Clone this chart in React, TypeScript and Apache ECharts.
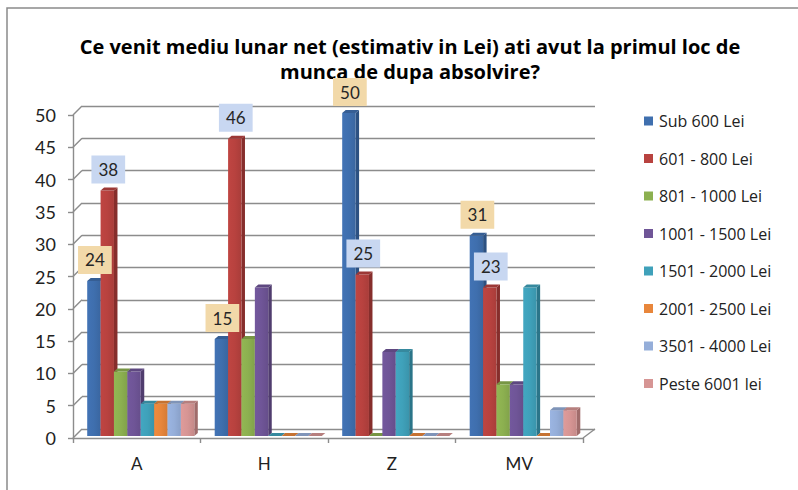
import React, { useEffect, useRef } from "react";
import * as echarts from "echarts";

const categories = ["A", "H", "Z", "MV"];
const seriesNames = [
  "Sub 600 Lei",
  "601 - 800 Lei",
  "801 - 1000 Lei",
  "1001 - 1500 Lei",
  "1501 - 2000 Lei",
  "2001 - 2500 Lei",
  "3501 - 4000 Lei",
  "Peste 6001 lei",
];
const sub600 = [24, 15, 50, 31];
const r601_800 = [38, 46, 25, 23];
const r801_1000 = [10, 15, 0, 8];
const r1001_1500 = [10, 23, 13, 8];
const r1501_2000 = [5, 0, 13, 23];
const r2001_2500 = [5, 0, 0, 0];
const r3501_4000 = [5, 0, 0, 4];
const peste6001 = [5, 0, 0, 4];
const seriesValues = [sub600, r601_800, r801_1000, r1001_1500, r1501_2000, r2001_2500, r3501_4000, peste6001];
const yTicks = [0, 5, 10, 15, 20, 25, 30, 35, 40, 45, 50];
const labeledSeries = [0, 1];

const colors = ["#3f6fae", "#b8423f", "#8cb050", "#6f5597", "#3fa1ba", "#e8863b", "#95aed9", "#d69594"];
const sideColors = ["#2c5182", "#862e2c", "#64803a", "#503d6e", "#2b7589", "#a95f28", "#6c80a3", "#a06c6b"];
const labelBg = ["#f2d9a9", "#c8d7f1"];

function shade(c: string, f: number) {
  const n = parseInt(c.slice(1), 16);
  let r = (n >> 16) & 255, g = (n >> 8) & 255, b = n & 255;
  r = Math.min(255, Math.round(r * f));
  g = Math.min(255, Math.round(g * f));
  b = Math.min(255, Math.round(b * f));
  return `rgb(${r},${g},${b})`;
}

const FONT = "Lato, 'Open Sans', sans-serif";
const FONT2 = "'Open Sans', Lato, sans-serif";

export default function App() {
  const ref = useRef<HTMLDivElement>(null);
  useEffect(() => {
    if (!ref.current) return;
    const chart = echarts.init(ref.current, undefined, { renderer: "svg" });
    const BW_RATIO = 0.105;
    const SHIFT = 4;
    const DX = 3.5;
    const DY = 3;
    const LIFT = 2;

    const barSeries = seriesNames.map((name, si) => ({
      name,
      type: "custom",
      xAxisIndex: 0,
      yAxisIndex: 0,
      itemStyle: { color: colors[si] },
      data: categories.map((c, i) => [i, seriesValues[si][i]]),
      renderItem: (params: any, api: any) => {
        const ci = api.value(0);
        const v = api.value(1);
        const base = api.coord([ci, 0]);
        const top = api.coord([ci, v]);
        const catW = api.size([1, 0])[0];
        const bw = catW * BW_RATIO;
        const x0 = base[0] - 4 * bw + SHIFT + si * bw;
        const yb = base[1] - LIFT;
        const yt = top[1] - LIFT;
        const c = colors[si];
        return {
          type: "group",
          children: [
            {
              type: "polygon",
              shape: { points: [[x0 + bw, yt], [x0 + bw + DX, yt - DY], [x0 + bw + DX, yb - DY], [x0 + bw, yb]] },
              style: { fill: sideColors[si] },
            },
            {
              type: "rect",
              shape: { x: x0, y: yt, width: bw, height: Math.max(0, yb - yt) },
              style: {
                fill: new echarts.graphic.LinearGradient(0, 0, 1, 0, [
                  { offset: 0, color: shade(c, 1.04) },
                  { offset: 0.5, color: c },
                  { offset: 1, color: shade(c, 0.92) },
                ]),
              },
            },
            {
              type: "polygon",
              shape: { points: [[x0, yt], [x0 + DX, yt - DY], [x0 + bw + DX, yt - DY], [x0 + bw, yt]] },
              style: { fill: shade(c, 0.85) },
            },
          ],
        };
      },
    }));

    const labelSeries = labeledSeries.map((si) => ({
      name: "label-" + si,
      type: "custom",
      xAxisIndex: 0,
      yAxisIndex: 0,
      z: 10,
      silent: true,
      data: categories.map((c, i) => [i, seriesValues[si][i]]),
      renderItem: (params: any, api: any) => {
        const ci = api.value(0);
        const v = api.value(1);
        const base = api.coord([ci, 0]);
        const top = api.coord([ci, v]);
        const catW = api.size([1, 0])[0];
        const bw = catW * BW_RATIO;
        const cx = base[0] - 4 * bw + SHIFT + si * bw + bw / 2 + 1;
        return {
          type: "text",
          z2: 100,
          style: {
            text: String(v),
            x: cx,
            y: top[1] - 23,
            align: "center",
            verticalAlign: "middle",
            fontSize: 17,
            fontFamily: FONT,
            fill: "#262626",
            backgroundColor: labelBg[labeledSeries.indexOf(si)],
            padding: [6, 7, 5, 7],
          },
        };
      },
    }));

    const wallSeries = {
      name: "wall",
      type: "custom",
      xAxisIndex: 0,
      yAxisIndex: 0,
      silent: true,
      z: 1,
      data: yTicks.map((v) => [0, v]),
      renderItem: (params: any, api: any) => {
        const v = api.value(1);
        const y = api.coord([0, v])[1];
        const x = params.coordSys.x;
        const w = params.coordSys.width;
        const st = { stroke: "#8c8c8c", lineWidth: 1.4 };
        const children: any[] = [
          { type: "line", shape: { x1: x, y1: y, x2: x + 9, y2: y - 9 }, style: st },
        ];
        if (v === 0) {
          children.push({ type: "line", shape: { x1: x + w, y1: y, x2: x + w + 12, y2: y - 9 }, style: st });
        }
        return { type: "group", children };
      },
    };

    chart.setOption({
      animation: false,
      backgroundColor: "#ffffff",
      title: {
        text: "Ce venit mediu lunar net (estimativ in Lei) ati avut la primul loc de\nmunca de dupa absolvire?",
        left: 405,
        top: 29,
        textAlign: "center",
        textStyle: { fontFamily: FONT2, fontSize: 20, fontWeight: "bold", color: "#000", lineHeight: 25 },
      },
      legend: {
        orient: "vertical",
        left: 639,
        top: 108,
        data: seriesNames,
        itemWidth: 9,
        itemHeight: 9,
        itemGap: 21.5,
        icon: "rect",
        textStyle: { fontFamily: FONT2, fontSize: 16, color: "#222", lineHeight: 16, padding: [0, 0, 0, 1] },
      },
      grid: [
        { left: 73, top: 115, width: 510, height: 323 },
        { left: 82, top: 106, width: 513, height: 323 },
      ],
      xAxis: [
        {
          type: "category",
          gridIndex: 0,
          data: categories,
          axisLine: { lineStyle: { color: "#8c8c8c", width: 1.4 } },
          axisTick: { show: true, length: 5, lineStyle: { color: "#8c8c8c", width: 1.4 } },
          axisLabel: { fontFamily: FONT, fontSize: 17, color: "#222", margin: 17 },
          splitLine: { show: false },
        },
        { type: "category", gridIndex: 1, data: categories, show: false },
      ],
      yAxis: [
        {
          type: "value",
          gridIndex: 0,
          min: 0,
          max: 50,
          interval: 5,
          axisLine: { show: true, lineStyle: { color: "#8c8c8c", width: 1.4 } },
          axisTick: { show: true, length: 5, lineStyle: { color: "#8c8c8c", width: 1.4 } },
          axisLabel: { fontFamily: FONT, fontSize: 18, color: "#222", margin: 17 },
          splitLine: { show: false },
        },
        {
          type: "value",
          gridIndex: 1,
          min: 0,
          max: 50,
          interval: 5,
          axisLine: { show: false },
          axisTick: { show: false },
          axisLabel: { show: false },
          splitLine: { show: true, lineStyle: { color: "#8c8c8c", width: 1.4 } },
        },
      ],
      graphic: [
        {
          type: "rect",
          shape: { x: 7, y: 8, width: 820, height: 520 },
          style: { fill: "none", stroke: "#8a8a8a", lineWidth: 1.5 },
          silent: true,
        },
      ],
      series: [wallSeries, ...barSeries, ...labelSeries],
    });
    return () => chart.dispose();
  }, []);
  return <div ref={ref} style={{ position: "fixed", left: 0, top: 0, width: 798, height: 490 }} />;
}
